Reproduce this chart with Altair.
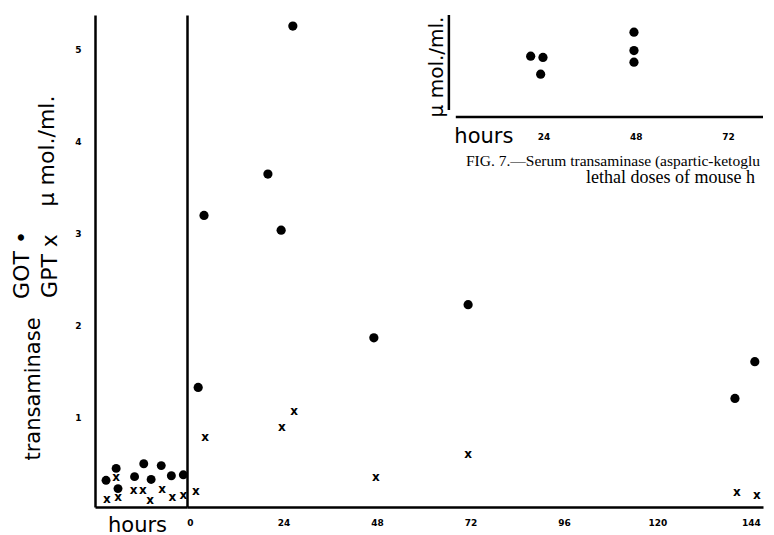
import altair as alt
import pandas as pd

# ---------------- data ----------------
# control (normal) sera, shown in the narrow left strip; position = order in strip
ctrl_pos_got = [1.2, 2.3, 2.5, 4.3, 5.3, 6.1, 7.2, 8.3, 9.6]
ctrl_got = [0.29, 0.42, 0.20, 0.33, 0.47, 0.30, 0.45, 0.34, 0.35]
ctrl_pos_gpt = [1.3, 2.3, 2.5, 4.2, 5.2, 6.0, 7.3, 8.4, 9.6]
ctrl_gpt = [0.09, 0.33, 0.11, 0.18, 0.18, 0.08, 0.20, 0.11, 0.13]

# after injection: hours and transaminase (mu mol./ml.)
got_hours = [2.1, 3.6, 20.0, 23.4, 26.4, 47.2, 71.4, 139.9, 145.0]
got_vals = [1.30, 3.17, 3.62, 3.01, 5.23, 1.84, 2.20, 1.18, 1.58]
gpt_hours = [1.5, 3.9, 23.6, 26.7, 47.7, 71.4, 140.4, 145.5]
gpt_vals = [0.17, 0.76, 0.87, 1.04, 0.33, 0.58, 0.16, 0.13]

main_ticks = [0, 24, 48, 72, 96, 120, 144]
y_ticks = [1, 2, 3, 4, 5]

# overlapping part of Fig. 7 (top right), cut off by the page edge
inset_hours = [20.5, 23.7, 23.1, 47.4, 47.4, 47.4]
inset_vals = [1.52, 1.49, 1.07, 2.12, 1.66, 1.37]
inset_ticks = [24, 48, 72]
caption_1 = "FIG. 7.\u2014Serum transaminase (aspartic-ketoglu"
caption_2 = "lethal doses of mouse h"

# ---------------- layout / style ----------------
H = 492
W_LEFT = 92
W_MAIN = 576
Y_DOMAIN = [0, 5.35]
X_MAIN_DOMAIN = [-0.77, 147.1]
INSET_X_DOMAIN = [-69.0, 81.0]
INSET_Y_DOMAIN = [-9.75, 2.55]
FONT = "DejaVu Sans"
SERIF = "Liberation Serif"
INK = "black"

one = pd.DataFrame({"d": [0]})

# ---------------- left strip (controls) ----------------
ctrl_got_df = pd.DataFrame({"pos": ctrl_pos_got, "v": ctrl_got})
ctrl_gpt_df = pd.DataFrame({"pos": ctrl_pos_gpt, "v": ctrl_gpt})

x_ctrl = alt.X(
    "pos:Q",
    scale=alt.Scale(domain=[0, 10], nice=False, zero=False),
    axis=alt.Axis(title="hours", labels=False, ticks=False, grid=False,
                  domainColor=INK, domainWidth=2.5, titleFont=FONT,
                  titleFontSize=21, titleFontWeight="normal", titleColor=INK,
                  titlePadding=7, titleX=42),
)
y_left = alt.Y(
    "v:Q",
    scale=alt.Scale(domain=Y_DOMAIN, nice=False),
    axis=alt.Axis(title=None, values=y_ticks, ticks=False, grid=False,
                  labelFont=FONT, labelFontSize=9, labelFontWeight="bold",
                  labelColor=INK, labelPadding=14, labelOffset=2,
                  domainColor=INK, domainWidth=2.5),
)

ctrl_dots = alt.Chart(ctrl_got_df).mark_circle(size=80, color=INK, opacity=1).encode(x=x_ctrl, y=y_left)
ctrl_x = alt.Chart(ctrl_gpt_df).mark_text(text="x", font=FONT, fontSize=12, fontWeight="bold", color=INK).encode(x=x_ctrl, y=y_left)


def vlabel(txt, px, py, size):
    return alt.Chart(one).mark_text(text=txt, angle=270, align="center", baseline="middle",
                                    font=FONT, fontSize=size, color=INK).encode(
        x=alt.value(px), y=alt.value(py))


left = alt.layer(
    ctrl_dots, ctrl_x,
    vlabel("transaminase", -61, 374, 21),
    vlabel("GOT \u2022", -73, 250, 22),
    vlabel("GPT x", -45, 251, 22),
    vlabel("\u03bc mol./ml.", -48, 136, 22),
).properties(width=W_LEFT, height=H)

# ---------------- main panel ----------------
got_df = pd.DataFrame({"h": got_hours, "v": got_vals})
gpt_df = pd.DataFrame({"h": gpt_hours, "v": gpt_vals})

main_axis_x = alt.Axis(title=None, values=main_ticks, ticks=False, grid=False,
                       labelFont=FONT, labelFontSize=9, labelFontWeight="bold",
                       labelColor=INK, labelPadding=11, labelFlush=False,
                       domainColor=INK, domainWidth=2.5)
main_axis_y = alt.Axis(title=None, labels=False, ticks=False, grid=False,
                       domainColor=INK, domainWidth=2.5)

sx_main = alt.Scale(domain=X_MAIN_DOMAIN, nice=False, zero=False)
sy_main = alt.Scale(domain=Y_DOMAIN, nice=False)
sx_in = alt.Scale(domain=INSET_X_DOMAIN, nice=False, zero=False)
sy_in = alt.Scale(domain=INSET_Y_DOMAIN, nice=False, zero=False)

got_layer = alt.Chart(got_df).mark_circle(size=85, color=INK, opacity=1).encode(
    x=alt.X("h:Q", scale=sx_main, axis=main_axis_x),
    y=alt.Y("v:Q", scale=sy_main, axis=main_axis_y))
gpt_layer = alt.Chart(gpt_df).mark_text(text="x", font=FONT, fontSize=12, fontWeight="bold", color=INK).encode(
    x=alt.X("h:Q", scale=sx_main, axis=None),
    y=alt.Y("v:Q", scale=sy_main, axis=None))

# ---------------- overlapping Fig. 7 fragment ----------------
inset_df = pd.DataFrame({"h": inset_hours, "v": inset_vals})
inset_tick_df = pd.DataFrame({"h": inset_ticks, "lab": [str(t) for t in inset_ticks]})


def ixd(v):
    return alt.X(datum=v, scale=sx_in, axis=None)


def iyd(v):
    return alt.Y(datum=v, scale=sy_in, axis=None)


inset_dots = alt.Chart(inset_df).mark_circle(size=85, color=INK, opacity=1).encode(
    x=alt.X("h:Q", scale=sx_in, axis=None), y=alt.Y("v:Q", scale=sy_in, axis=None))
inset_xline = alt.Chart(one).mark_rule(color=INK, strokeWidth=2.5).encode(
    x=ixd(1.0), x2=alt.datum(81.0), y=iyd(0))
inset_yline = alt.Chart(one).mark_rule(color=INK, strokeWidth=2.5).encode(
    x=ixd(-0.8), y=iyd(0.175), y2=alt.datum(2.55))
inset_ticklabels = alt.Chart(inset_tick_df).mark_text(
    font=FONT, fontSize=9, fontWeight="bold", color=INK, baseline="middle").encode(
    x=alt.X("h:Q", scale=sx_in, axis=None), y=iyd(-0.5), text="lab:N")
inset_hours_lab = alt.Chart(one).mark_text(
    text="hours", font=FONT, fontSize=21, color=INK, baseline="middle").encode(
    x=ixd(8.3), y=iyd(-0.5))
inset_ylab = alt.Chart(one).mark_text(
    text="\u03bc mol./ml.", font=FONT, fontSize=20, color=INK, angle=270,
    baseline="middle", align="center").encode(x=ixd(-4.0), y=iyd(1.25))
cap1 = alt.Chart(one).mark_text(
    text=caption_1, font=SERIF, fontSize=15.5, color=INK, align="left",
    baseline="middle").encode(x=ixd(3.65), y=iyd(-1.1))
cap2 = alt.Chart(one).mark_text(
    text=caption_2, font=SERIF, fontSize=18, color=INK, align="left",
    baseline="middle").encode(x=ixd(34.9), y=iyd(-1.53))

main = alt.layer(
    got_layer, gpt_layer, inset_dots, inset_xline, inset_yline,
    inset_ticklabels, inset_hours_lab, inset_ylab, cap1, cap2,
).resolve_scale(x="independent", y="independent").properties(width=W_MAIN, height=H)

chart = alt.hconcat(left, main, spacing=0, bounds="flush").properties(
    padding={"left": 3, "top": 5, "right": 0, "bottom": 0},
    background="white",
).configure_view(stroke=None)

chart.save("out.html", embed_options={"renderer": "svg", "actions": False})
